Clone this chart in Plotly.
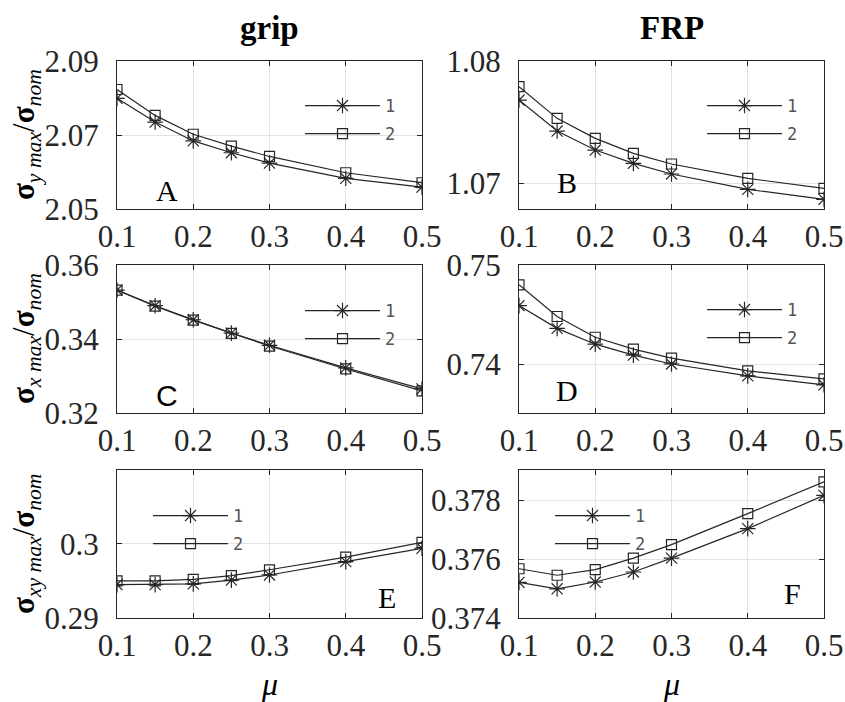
import plotly.graph_objects as go

mu = [0.1, 0.15, 0.2, 0.25, 0.3, 0.4, 0.5]
x_ticks = [0.1, 0.2, 0.3, 0.4, 0.5]

A1 = [2.0799, 2.0735, 2.0684, 2.0652, 2.0624, 2.0583, 2.0559]
A2 = [2.0823, 2.0753, 2.0702, 2.0670, 2.0642, 2.0598, 2.0571]
B1 = [1.0768, 1.07426, 1.0727, 1.07161, 1.07074, 1.06948, 1.06866]
B2 = [1.0779, 1.0753, 1.07366, 1.07243, 1.07156, 1.07038, 1.06956]
C1 = [0.3532, 0.3490, 0.3452, 0.3416, 0.3383, 0.3322, 0.3265]
C2 = [0.3532, 0.3489, 0.3451, 0.3415, 0.3381, 0.3319, 0.3260]
D1 = [0.7459, 0.7436, 0.7420, 0.7409, 0.7400, 0.7388, 0.7379]
D2 = [0.7480, 0.7448, 0.7427, 0.7415, 0.7406, 0.7393, 0.7385]
E1 = [0.2945, 0.2945, 0.2946, 0.2951, 0.2958, 0.2976, 0.2994]
E2 = [0.2950, 0.2950, 0.2952, 0.2957, 0.2965, 0.2982, 0.3002]
F1 = [0.37521, 0.37499, 0.37522, 0.37556, 0.37603, 0.37703, 0.37816]
F2 = [0.37567, 0.37545, 0.37564, 0.37603, 0.37649, 0.37754, 0.37862]

A_ticks = [2.05, 2.07, 2.09]
B_ticks = [1.07, 1.08]
C_ticks = [0.32, 0.34, 0.36]
D_ticks = [0.74, 0.75]
E_ticks = [0.29, 0.3]
F_ticks = [0.374, 0.376, 0.378]

series_names = ["1", "2"]
col_titles = ["grip", "FRP"]
x_label = "μ"
y_labels = ["<b>σ</b><sub><i>y max</i></sub>/<b>σ</b><sub><i>nom</i></sub>",
            "<b>σ</b><sub><i>x max</i></sub>/<b>σ</b><sub><i>nom</i></sub>",
            "<b>σ</b><sub><i>xy max</i></sub>/<b>σ</b><sub><i>nom</i></sub>"]

W, H = 845, 702
INK = "#262626"
SERIF = "Liberation Serif"
SANS = "Liberation Sans"


def px(x):
    return x / W


def py(y):
    return 1 - y / H


col_px = [(117, 422), (519, 824)]
row_px = [(61, 209), (265, 413), (470, 618)]

panels = [
    ("A", A1, A2, 0, 0, [2.05, 2.09], A_ticks, (167, 190), (300, 88), SERIF),
    ("B", B1, B2, 0, 1, [1.06787, 1.08], B_ticks, (567, 183), (702, 88), SERIF),
    ("C", C1, C2, 1, 0, [0.32, 0.36], C_ticks, (167, 395), (300, 293), SANS),
    ("D", D1, D2, 1, 1, [0.73505, 0.75], D_ticks, (567, 390), (702, 292), SERIF),
    ("E", E1, E2, 2, 0, [0.29, 0.30995], E_ticks, (387, 597), (148, 498), SERIF),
    ("F", F1, F2, 2, 1, [0.374, 0.37902], F_ticks, (792, 593), (550, 498), SERIF),
]

fig = go.Figure()
annotations = []
layout = {}

for i, (letter, s1, s2, r, c, yr, yt, lpos, legpos, lfont) in enumerate(panels):
    n = i + 1
    xa = "x" if n == 1 else f"x{n}"
    ya = "y" if n == 1 else f"y{n}"
    leg = "legend" if n == 1 else f"legend{n}"
    for s, name, sym, size in [(s1, series_names[0], "asterisk-open", 13),
                               (s2, series_names[1], "square-open", 10)]:
        fig.add_trace(go.Scatter(
            x=mu, y=s, name=name, mode="lines+markers",
            xaxis=xa, yaxis=ya, legend=leg, legendgroup=f"{letter}{name}",
            line=dict(color=INK, width=1.2),
            marker=dict(symbol=sym, size=size, color=INK,
                        line=dict(color=INK, width=1.2)),
        ))
    axcommon = dict(showline=True, linecolor=INK, linewidth=1, mirror="all",
                    ticks="inside", ticklen=5, tickcolor=INK, automargin=False,
                    showgrid=True, gridcolor="#e3e3e3", gridwidth=1,
                    zeroline=False,
                    tickfont=dict(family=SERIF, size=31, color=INK))
    x0, x1 = col_px[c]
    y0, y1 = row_px[r]
    layout["xaxis" if n == 1 else f"xaxis{n}"] = dict(
        axcommon, domain=[px(x0), px(x1)], anchor=ya, range=[0.1, 0.5],
        tickvals=x_ticks, ticktext=[str(v) for v in x_ticks])
    layout["yaxis" if n == 1 else f"yaxis{n}"] = dict(
        axcommon, domain=[py(y1), py(y0)], anchor=xa, range=yr,
        tickvals=yt, ticklabelstandoff=11)
    layout[leg] = dict(x=px(legpos[0]), y=py(legpos[1]), xanchor="left",
                       yanchor="top", bgcolor="rgba(0,0,0,0)", borderwidth=0,
                       itemwidth=75, tracegroupgap=3,
                       font=dict(family="DejaVu Sans Mono", size=17, color="#555555"))
    annotations.append(dict(text=letter, x=px(lpos[0]), y=py(lpos[1]),
                            xanchor="center", yanchor="middle",
                            xref="paper", yref="paper", showarrow=False,
                            font=dict(family=lfont, size=30, color="black")))

for r in range(3):
    yc = (row_px[r][0] + row_px[r][1]) / 2
    annotations.append(dict(text=y_labels[r], x=px(26), y=py(yc), xref="paper",
                            yref="paper", showarrow=False, textangle=-90,
                            xanchor="center", yanchor="middle",
                            font=dict(family=SERIF, size=31, color="black")))

for c, t in enumerate(col_titles):
    xc = (col_px[c][0] + col_px[c][1]) / 2
    annotations.append(dict(text=f"<b>{t}</b>", x=px(xc), y=py(28), xref="paper",
                            yref="paper", showarrow=False,
                            xanchor="center", yanchor="middle",
                            font=dict(family=SERIF, size=33, color="black")))
    annotations.append(dict(text=f"<i>{x_label}</i>", x=px(xc), y=py(684),
                            xref="paper", yref="paper", showarrow=False,
                            xanchor="center", yanchor="middle",
                            font=dict(family=SERIF, size=32, color="black")))

fig.update_layout(
    width=W, height=H, margin=dict(l=0, r=0, t=0, b=0, autoexpand=False),
    paper_bgcolor="white", plot_bgcolor="white",
    annotations=annotations, showlegend=True, **layout)

fig.write_html("out.html", config={"displayModeBar": False},
               post_script="document.body.style.margin='0';"
                           "document.body.style.overflow='hidden';")
